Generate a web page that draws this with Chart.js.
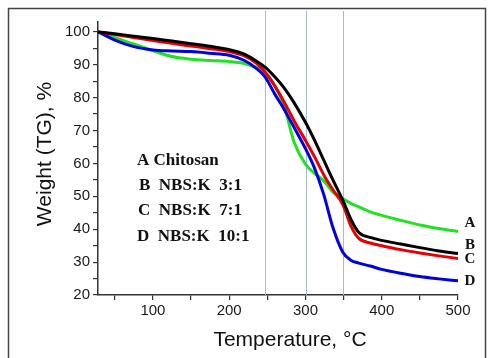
<!DOCTYPE html>
<html>
<head>
<meta charset="utf-8">
<script src="https://cdn.jsdelivr.net/npm/chart.js@4"></script>
<style>
  body { margin: 0; background: #fff; }
  canvas { display: block; }
</style>
</head>
<body>
<canvas id="chart" width="489" height="358"></canvas>
<script>
// temperature grid (°C) and weight (%) for each sample
const temps = [28, 50, 75, 100, 125, 150, 175, 200, 220, 235, 247, 260, 272, 285, 300, 312, 324, 336, 349, 360, 370, 385, 400, 425, 450, 475, 500];
const chitosanA = [100, 98.2, 96.3, 94.3, 92.5, 91.7, 91.3, 91, 90.4, 89.2, 87.6, 83.5, 77.5, 66.5, 59.8, 57, 54.7, 51.3, 49.3, 47.8, 46.8, 45.3, 44.2, 42.7, 41.3, 40.2, 39.3];
const nbs3B = [100, 99.4, 98.7, 98, 97.2, 96.4, 95.6, 94.6, 93.2, 91.2, 89.3, 86.3, 83, 78.5, 72.5, 67, 61, 55, 48.8, 42.8, 39, 37.5, 36.6, 35.5, 34.4, 33.4, 32.6];
const nbs7C = [100, 99.2, 98.3, 97.4, 96.5, 95.7, 94.9, 94, 92.7, 90.6, 87.8, 83.5, 78.7, 73, 67, 62, 56.5, 52, 47.5, 40.8, 37.2, 35.8, 35, 33.8, 32.8, 31.9, 31.1];
const nbs10D = [100, 97.5, 95.5, 94.5, 94.2, 94, 93.5, 92.9, 91.3, 89, 86.3, 81, 76.5, 71, 64.5, 58.5, 50.5, 40.5, 33, 30.5, 29.7, 28.8, 27.8, 26.6, 25.6, 24.9, 24.3];

const xTickLabels = [100, 200, 300, 400, 500];
const yTickLabels = [20, 30, 40, 50, 60, 70, 80, 90, 100];
const markerTemps = [247, 301, 349];
const legendLines = ['A Chitosan', 'B  NBS:K  3:1', 'C  NBS:K  7:1', 'D  NBS:K  10:1'];
const endLabels = ['A', 'B', 'C', 'D'];

const pts = (ys) => temps.map((t, i) => ({ x: t, y: ys[i] }));

const line = (ys, color) => ({
    data: pts(ys),
    borderColor: color,
    borderWidth: 3,
    pointRadius: 0,
    fill: false,
    cubicInterpolationMode: 'monotone'
});

const extras = {
    id: 'extras',
    beforeDatasetsDraw(chart) {
        const ctx = chart.ctx;
        const x = chart.scales.x;
        ctx.save();
        ctx.strokeStyle = '#a3bdd6';
        ctx.lineWidth = 1;
        markerTemps.forEach(t => {
            const px = Math.round(x.getPixelForValue(t)) + 0.5;
            ctx.beginPath();
            ctx.moveTo(px, 11);
            ctx.lineTo(px, chart.chartArea.bottom);
            ctx.stroke();
        });
        ctx.restore();
    },
    afterDraw(chart) {
        const ctx = chart.ctx;
        const x = chart.scales.x;
        const y = chart.scales.y;
        ctx.save();
        // frame round the figure
        ctx.strokeStyle = '#444';
        ctx.lineWidth = 1.5;
        ctx.strokeRect(8.5, 8.5, 477, 360);

        // axis titles
        ctx.fillStyle = '#111';
        ctx.font = '21px "Liberation Sans", Arial, sans-serif';
        ctx.textAlign = 'center';
        ctx.textBaseline = 'middle';
        ctx.fillText('Temperature, °C', 290, 340);
        ctx.save();
        ctx.translate(45, 154);
        ctx.rotate(-Math.PI / 2);
        ctx.fillText('Weight (TG), %', 0, 0);
        ctx.restore();

        // sample list inside the plot
        ctx.font = 'bold 17px "Liberation Serif", "Times New Roman", serif';
        ctx.textAlign = 'left';
        const listY = [161, 186, 211, 237];
        const listX = [137, 139, 138, 137];
        legendLines.forEach((s, i) => ctx.fillText(s, listX[i], listY[i]));

        // curve letters at the right end
        ctx.font = 'bold 15px "Liberation Serif", "Times New Roman", serif';
        ctx.textAlign = 'center';
        const ends = [chitosanA, nbs3B, nbs7C, nbs10D].map(a => a[a.length - 1]);
        const shift = [-8, -8, 1, 0];
        const ex = x.getPixelForValue(500) + 12;
        endLabels.forEach((s, i) => ctx.fillText(s, ex, y.getPixelForValue(ends[i]) + shift[i]));
        ctx.restore();
    }
};

new Chart(document.getElementById('chart'), {
    type: 'line',
    data: {
        datasets: [
            line(nbs3B, '#000000'),
            line(nbs7C, '#e60000'),
            line(nbs10D, '#0000e0'),
            line(chitosanA, '#22e022')
        ]
    },
    options: {
        responsive: false,
        animation: false,
        devicePixelRatio: 1,
        layout: { padding: { top: 22, right: 31, left: 0, bottom: 0 } },
        plugins: { legend: { display: false }, tooltip: { enabled: false } },
        scales: {
            x: {
                type: 'linear',
                min: 28,
                max: 500,
                afterFit: s => { s.height = 63; },
                afterBuildTicks: s => {
                    const t = [];
                    for (let v = 50; v <= 500; v += 50) t.push({ value: v });
                    s.ticks = t;
                },
                ticks: {
                    autoSkip: false,
                    maxRotation: 0,
                    padding: 2,
                    color: '#1a1a1a',
                    font: { family: '"Liberation Sans", Arial, sans-serif', size: 15 },
                    callback: v => xTickLabels.includes(v) ? String(v) : ''
                },
                grid: { drawOnChartArea: false, drawTicks: true, tickLength: 5, color: '#333', lineWidth: 1.2 },
                border: { display: true, color: '#333', width: 1.5 }
            },
            y: {
                min: 20,
                max: 103,
                afterFit: s => { s.width = 98; },
                afterBuildTicks: s => {
                    const t = [];
                    for (let v = 20; v <= 100; v += 5) t.push({ value: v });
                    s.ticks = t;
                },
                ticks: {
                    autoSkip: false,
                    padding: 3,
                    color: '#1a1a1a',
                    font: { family: '"Liberation Sans", Arial, sans-serif', size: 15 },
                    callback: v => yTickLabels.includes(v) ? String(v) : ''
                },
                grid: { drawOnChartArea: false, drawTicks: true, tickLength: 5, color: '#333', lineWidth: 1.2 },
                border: { display: true, color: '#333', width: 1.5 }
            }
        }
    },
    plugins: [extras]
});
</script>
</body>
</html>
